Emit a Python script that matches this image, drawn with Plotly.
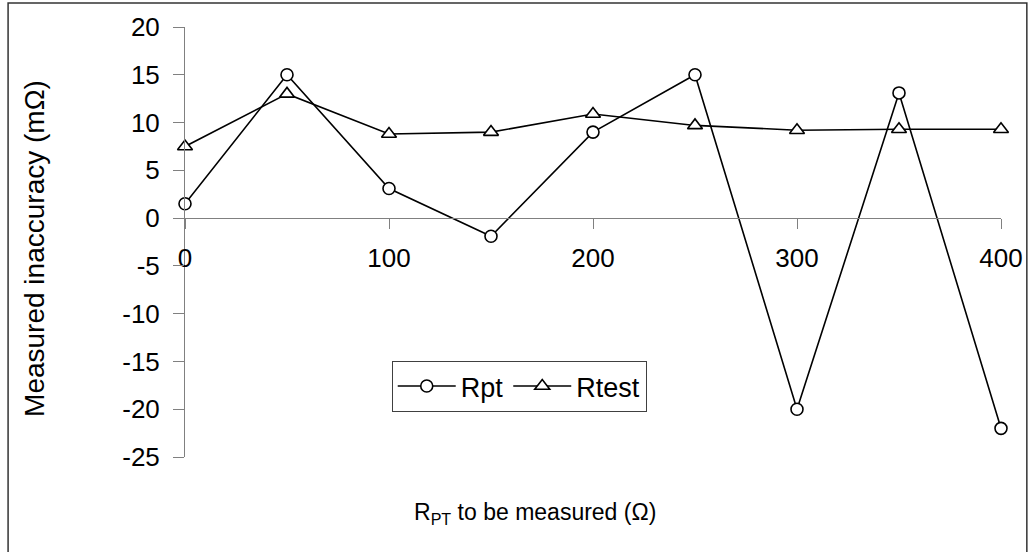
import plotly.graph_objects as go

x_vals = [0, 50, 100, 150, 200, 250, 300, 350, 400]
rpt = [1.5, 15, 3.1, -1.9, 9.0, 15, -20, 13.1, -22]
rtest = [7.5, 13, 8.8, 9.0, 10.9, 9.7, 9.2, 9.3, 9.3]
x_ticks = [0, 100, 200, 300, 400]
y_ticks = [-25, -20, -15, -10, -5, 0, 5, 10, 15, 20]

FONT = "Liberation Sans, Arial, sans-serif"
W, H = 1035, 552
L, R, T, B = 185, 29, 27, 95
pw, ph = W - L - R, H - T - B

def px(x):
    return (x - L) / pw

def py(y):
    return (H - B - y) / ph

fig = go.Figure()
fig.add_trace(go.Scatter(
    x=x_vals, y=rpt, name="Rpt", mode="lines+markers", cliponaxis=False,
    line=dict(color="black", width=1.6),
    marker=dict(symbol="circle", size=12, color="white", line=dict(color="black", width=1.6)),
))
fig.add_trace(go.Scatter(
    x=x_vals, y=rtest, name="Rtest", mode="lines+markers", cliponaxis=False,
    line=dict(color="black", width=1.6),
    marker=dict(symbol="triangle-up", size=13, color="white", line=dict(color="black", width=1.6)),
))

fig.update_layout(
    width=W, height=H,
    margin=dict(l=L, r=R, t=T, b=B),
    paper_bgcolor="white", plot_bgcolor="white",
    font=dict(family=FONT, size=26, color="black"),
    showlegend=True,
    legend=dict(
        orientation="h", x=px(393), y=py(361), xanchor="left", yanchor="top",
        bordercolor="#404040", borderwidth=1, bgcolor="white",
        font=dict(family=FONT, size=27, color="black"),
        itemwidth=58, tracegroupgap=0,
    ),
    xaxis=dict(
        range=[0, 400], tickvals=x_ticks, ticktext=[str(v) for v in x_ticks],
        anchor="free", position=25 / 45,
        showline=True, linecolor="#808080", linewidth=1,
        ticks="outside", ticklen=10, tickcolor="#808080", tickwidth=1,
        showgrid=False, zeroline=False, ticklabelstandoff=7,
        tickfont=dict(family=FONT, size=26, color="black"),
    ),
    yaxis=dict(
        range=[-25, 20], tickvals=y_ticks, ticktext=[str(v) for v in y_ticks],
        showline=True, linecolor="#808080", linewidth=1,
        ticks="outside", ticklen=11, tickcolor="#808080", tickwidth=1,
        showgrid=False, zeroline=False, ticklabelstandoff=8,
        tickfont=dict(family=FONT, size=26, color="black"),
    ),
    annotations=[
        dict(text="Measured inaccuracy (mΩ)", xref="paper", yref="paper",
             x=px(33), y=py(248), xanchor="center", yanchor="middle",
             textangle=-90, showarrow=False, font=dict(family=FONT, size=28, color="black")),
        dict(text="R<sub>PT</sub> to be measured (Ω)", xref="paper", yref="paper",
             x=px(537), y=py(513), xanchor="center", yanchor="middle",
             showarrow=False, font=dict(family=FONT, size=23, color="black")),
    ],
    shapes=[
        dict(type="rect", xref="paper", yref="paper",
             x0=px(7), x1=px(1032), y0=py(565), y1=py(3),
             line=dict(color="#333333", width=1.5), fillcolor="rgba(0,0,0,0)", layer="below"),
    ],
)

fig.write_html("out.html", config={"displayModeBar": False},
               post_script="document.body.style.margin='0px';")
